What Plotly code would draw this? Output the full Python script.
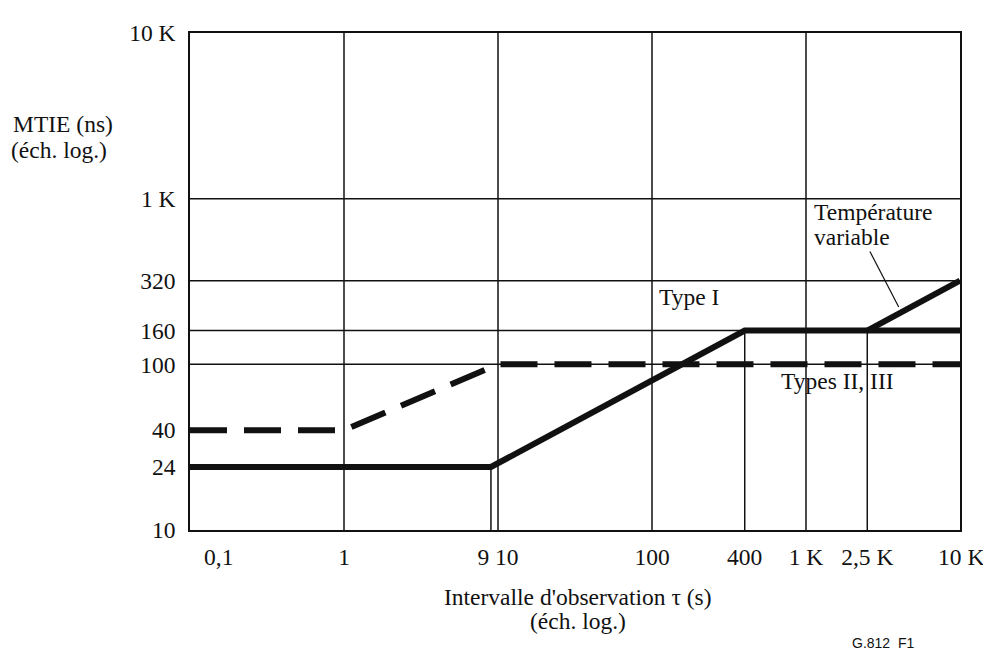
import plotly.graph_objects as go
import math

# Data
type1_x = [0.1, 9, 400, 10000]
type1_y = [24, 24, 160, 160]
temp_x = [2500, 10000]
temp_y = [160, 320]
types23_x = [0.1, 1, 10, 10000]
types23_y = [40, 40, 100, 100]

x_tickvals = [1, 10, 100, 400, 1000, 2500]
x_ticktext = ["1", "9 10", "100", "400", "1 K", "2,5 K"]
x_edge_vals = [0.1, 10000]
x_edge_text = ["0,1", "10 K"]
y_tickvals = [10, 24, 40, 100, 160, 320, 1000, 10000]
y_ticktext = ["10", "24", "40", "100", "160", "320", "1 K", "10 K"]

full_vlines = [1, 10, 100, 1000]
partial_vlines = [(9, 24), (400, 160), (2500, 160)]
full_hlines = [100, 160, 320, 1000]

FONT = "Liberation Serif"
FS = 23.5
INK = "#111"

# plot area in screen pixels (page has an 8px body offset)
PL, PR, PT, PB = 190, 960, 30, 530
PW, PH = PR - PL, PB - PT


def px(x):
    return (x - PL) / PW


def py(y):
    return (PB - y) / PH


fig = go.Figure()
fig.add_trace(go.Scatter(x=type1_x, y=type1_y, mode="lines",
                         line=dict(color=INK, width=6), showlegend=False))
fig.add_trace(go.Scatter(x=temp_x, y=temp_y, mode="lines",
                         line=dict(color=INK, width=6), showlegend=False))
fig.add_trace(go.Scatter(x=types23_x, y=types23_y, mode="lines",
                         line=dict(color=INK, width=6, dash="37px,17px"),
                         showlegend=False))

shapes = []
for v in full_vlines:
    shapes.append(dict(type="line", xref="x", yref="paper", x0=v, x1=v, y0=0, y1=1,
                       line=dict(color=INK, width=1.5), layer="below"))
for v, top in partial_vlines:
    shapes.append(dict(type="line", xref="x", yref="y", x0=v, x1=v, y0=10, y1=top,
                       line=dict(color=INK, width=1.5), layer="below"))
for h in full_hlines:
    shapes.append(dict(type="line", xref="paper", yref="y", x0=0, x1=1, y0=h, y1=h,
                       line=dict(color=INK, width=1.5), layer="below"))
# leader line for "Température variable"
shapes.append(dict(type="line", xref="x", yref="y", x0=2600, x1=4000, y0=480, y1=222,
                   line=dict(color=INK, width=1.2)))


def txt(text, x, y, xanchor="left", xref="paper", yref="paper", size=FS, family=FONT,
        xshift=0):
    return dict(text=text, x=x, y=y, xref=xref, yref=yref, xanchor=xanchor,
                yanchor="middle", showarrow=False, xshift=xshift,
                font=dict(family=family, size=size, color=INK))


annotations = [
    txt("Type I", px(657), py(296)),
    txt("Types II, III", px(779), py(380)),
    txt("Température", px(812), py(210)),
    txt("variable", px(812), py(235)),
    txt("MTIE (ns)", px(11), py(122)),
    txt("(éch. log.)", px(9), py(148)),
    txt("Intervalle d'observation τ (s)", px(578), py(597), xanchor="center"),
    txt("(éch. log.)", px(578), py(622), xanchor="center"),
    txt("G.812  F1", px(916), py(644), xanchor="right", size=14, family="Liberation Sans"),
    # edge tick labels of the x axis, set off from the frame as in the original
    txt(x_edge_text[0], math.log10(x_edge_vals[0]), py(557), xanchor="center", xref="x",
        xshift=28),
    txt(x_edge_text[1], math.log10(x_edge_vals[1]), py(557), xanchor="right", xref="x",
        xshift=26),
]

fig.update_layout(
    width=991 - 8, height=657 - 8,
    margin=dict(l=PL - 8, r=991 - PR, t=PT - 8, b=657 - PB),
    paper_bgcolor="white", plot_bgcolor="white",
    shapes=shapes, annotations=annotations,
    font=dict(family=FONT, size=FS, color=INK),
)
fig.update_xaxes(type="log", range=[-1, 4], tickvals=x_tickvals, ticktext=x_ticktext,
                 showgrid=False, zeroline=False, showline=True, mirror=True,
                 linecolor=INK, linewidth=1.5, ticks="", ticklabelstandoff=5,
                 tickfont=dict(family=FONT, size=FS, color=INK))
fig.update_yaxes(type="log", range=[1, 4], tickvals=y_tickvals, ticktext=y_ticktext,
                 showgrid=False, zeroline=False, showline=True, mirror=True,
                 linecolor=INK, linewidth=1.5, ticks="", ticklabelstandoff=8,
                 tickfont=dict(family=FONT, size=FS, color=INK))

fig.write_html("out.html")
